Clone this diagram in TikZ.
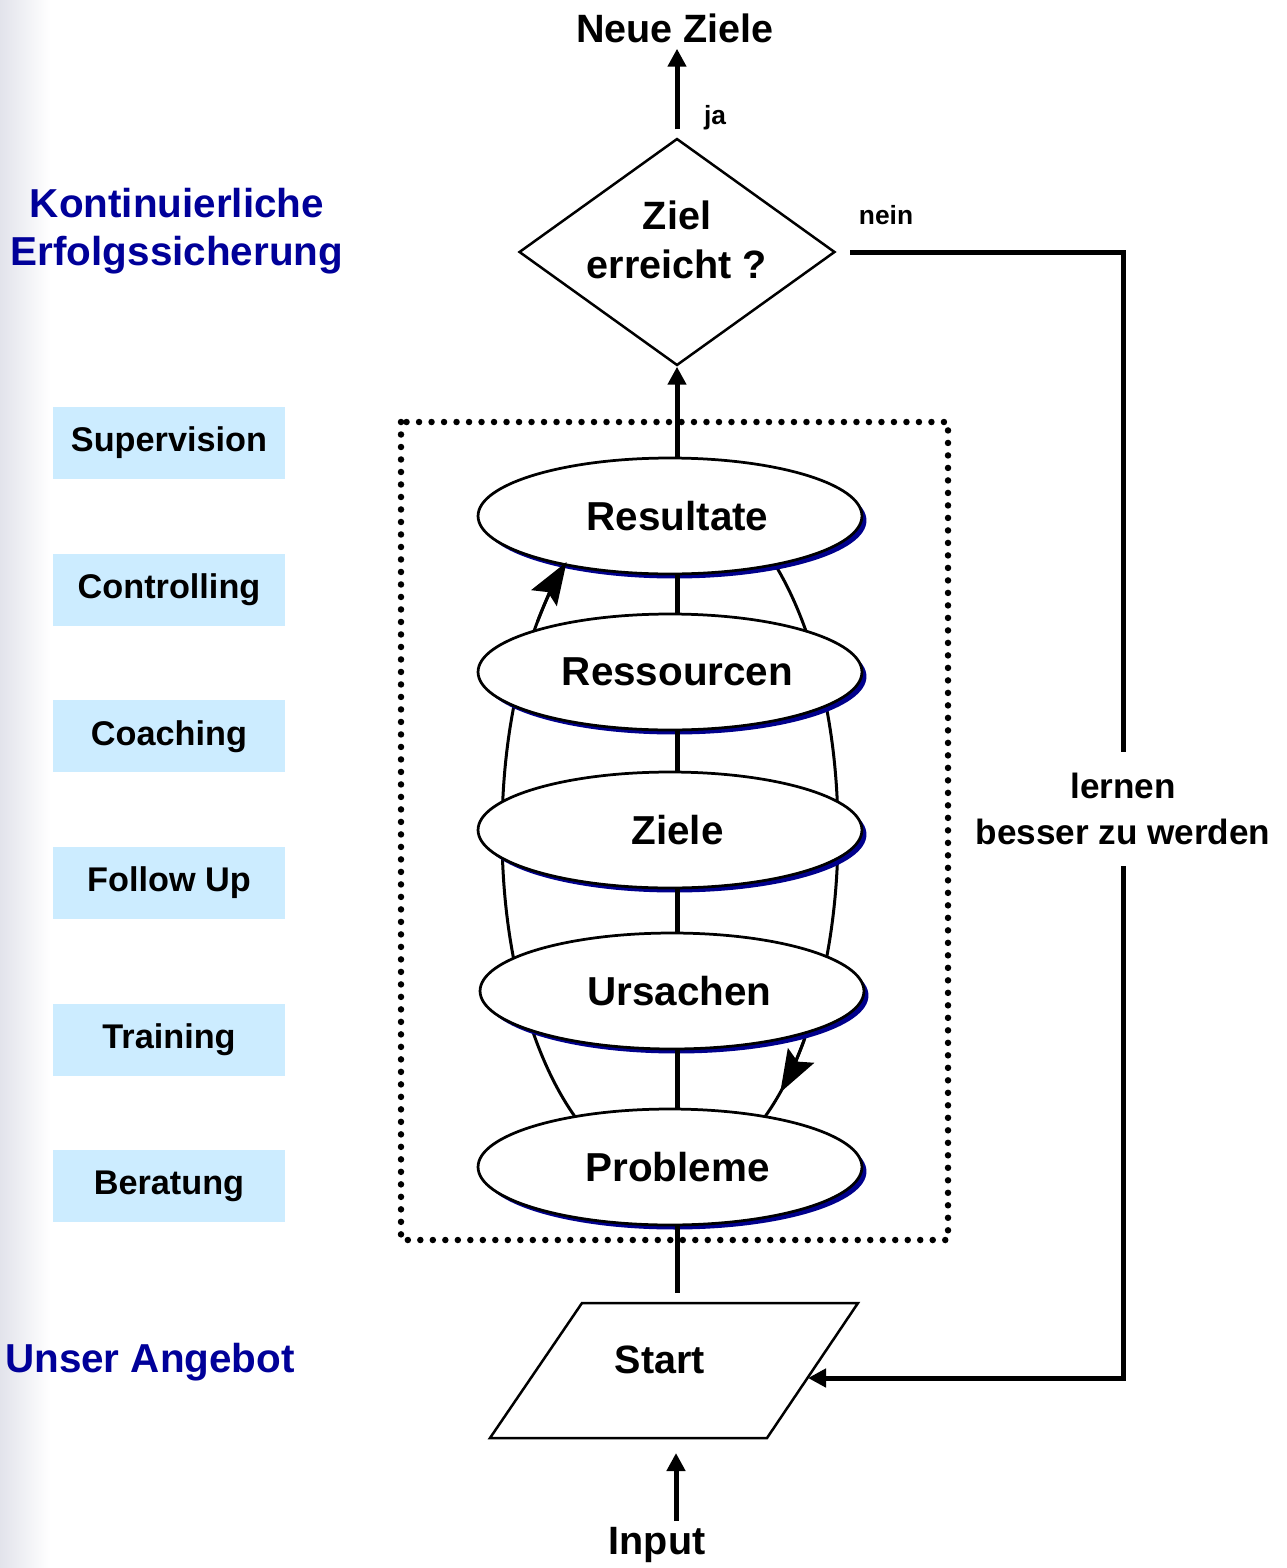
\documentclass[tikz,border=0pt]{standalone}
\usepackage{fontspec}
\setmainfont{Liberation Sans}
\usepackage{xcolor}
\usepackage{tikz}
\usetikzlibrary{arrows.meta,positioning,shapes.geometric,shadows}

\definecolor{titleblue}{RGB}{0,0,153}
\definecolor{shadowblue}{RGB}{0,0,140}
\definecolor{offerblue}{RGB}{204,236,255}
\definecolor{edgegray}{RGB}{226,227,235}
\newcommand{\fs}[2]{\fontsize{#1}{#2}\selectfont\bfseries}

\begin{document}
\begin{tikzpicture}[x=0.02cm, y=0.02cm, node distance=1.48cm,
  stage/.style={ellipse, draw, line width=0.055cm, fill=white, minimum width=7.68cm, minimum height=2.32cm, inner sep=0pt, font=\fs{23}{27}, execute at begin node={\hspace*{0.3cm}}, drop shadow={shadow xshift=0.09cm, shadow yshift=-0.09cm, fill=shadowblue, opacity=1}},
  offer/.style={fill=offerblue, minimum width=4.66cm, minimum height=1.44cm, font=\fs{19.5}{23}},
  headline/.style={text=titleblue, font=\fs{23}{27.5}, align=center},
  flowtext/.style={font=\fs{22.5}{27}},
  note/.style={font=\fs{15}{18}},
  flow/.style={line width=0.1cm},
  arr/.style={flow, -{Triangle[length=0.36cm, width=0.36cm]}},
  loopline/.style={line width=0.06cm},
  looparr/.style={loopline, -{Stealth[length=0.85cm, width=0.6cm, inset=0.14cm]}},
  dotbox/.style={line width=0.13cm, line cap=round, dash pattern=on 0pt off 0.25cm}]
\useasboundingbox (0,0) rectangle (1286,-1568);
\fill[left color=edgegray, right color=white] (0,0) rectangle (50,-1568);
\coordinate (spine) at (677,0);

% left column
\node[headline] (kes) at (177,-231) {Kontinuierliche\\Erfolgssicherung};
\node[offer] (sup) at (169,-443) {Supervision};
\node[offer,below=of sup] (con) {Controlling};
\node[offer,below=of con] (coa) {Coaching};
\node[offer,below=of coa] (fol) {Follow Up};
\node[offer,below=of fol,yshift=-0.2cm] (tra) {Training};
\node[offer,below=of tra] (ber) {Beratung};
\node[headline] (ang) at (150,-1362) {Unser Angebot};

% cycle
\draw[dotbox] (401,-422) rectangle (948,-1240);
\draw[loopline] (670,-833) ellipse [x radius=3.36cm, y radius=6.88cm];
\node[stage] (res) at (670,-516) {Resultate};
\node[stage] (ress) at (670,-672) {Ressourcen};
\node[stage] (zie) at (670,-830) {Ziele};
\node[stage] (urs) at (672,-991) {Ursachen};
\node[stage] (prob) at (670,-1167) {Probleme};

% decision
\node[diamond, draw, line width=0.05cm, aspect=1.39, minimum width=6.32cm, minimum height=4.54cm, inner sep=0pt] (ziel) at (677,-252) {};
\node[align=center, font=\fs{22.5}{28}] (zieltext) at (677,-240) {Ziel\\erreicht ?};
\node[flowtext] (neue) at (675,-28) {Neue Ziele};
\node[note] (ja) at (715,-118) {ja};
\node[note] (nein) at (886,-215) {nein};
\node[font=\fs{20}{26}, align=center, inner ysep=0.42cm] (lern) at (1123,-809) {lernen\\besser zu werden};

% start
\coordinate (stl) at (582,-1303);
\coordinate (str) at (858,-1303);
\coordinate (sbr) at (767,-1438);
\coordinate (sbl) at (490,-1438);
\coordinate (startin) at (808,-1378);
\draw[line width=0.05cm] (stl) -- (str) -- (sbr) -- (sbl) -- cycle;
\node[flowtext] (start) at (660,-1360) {Start};
\node[flowtext] (input) at (657,-1545) {Input};

\draw[arr, shorten <=0.16cm] (ziel.north) -- (neue.south -| ziel.north);
\draw[arr] (res.north -| spine) -- (ziel.south);
\draw[flow] (res.south -| spine) -- (ress.north -| spine);
\draw[flow] (ress.south -| spine) -- (zie.north -| spine);
\draw[flow] (zie.south -| spine) -- (urs.north -| spine);
\draw[flow] (urs.south -| spine) -- (prob.north -| spine);
\draw[flow, shorten >=0.2cm] (prob.south -| spine) -- (stl -| spine);
\draw[flow, shorten <=0.28cm] (ziel.east) -- (ziel.east -| lern.north) -- (lern.north);
\draw[arr] (lern.south) |- (startin);
\draw[arr, shorten >=0.3cm] (input.north -| 676,0) -- (sbl -| 676,0);

\draw[looparr] (670,-833) ++(142:3.36cm and 6.88cm) arc[start angle=142, end angle=128, x radius=3.36cm, y radius=6.88cm];
\draw[looparr] (670,-833) ++(-37:3.36cm and 6.88cm) arc[start angle=-37, end angle=-49, x radius=3.36cm, y radius=6.88cm];
\end{tikzpicture}
\end{document}
